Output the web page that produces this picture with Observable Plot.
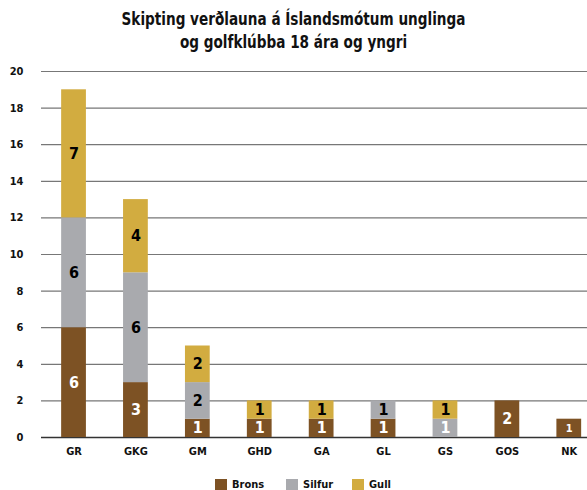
<!DOCTYPE html>
<html>
<head>
<meta charset="utf-8">
<script src="https://cdn.jsdelivr.net/npm/d3@7"></script>
<script src="https://cdn.jsdelivr.net/npm/@observablehq/plot@0.6"></script>
<style>
  html, body { margin: 0; padding: 0; background: #fff; }
  body { width: 587px; height: 490px; overflow: hidden; font-family: "DejaVu Sans Condensed", "Liberation Sans Narrow", sans-serif; font-weight: bold; }
  #title { height: 58px; text-align: center; font-size: 18px; line-height: 23px; padding-top: 7px; box-sizing: border-box; color: #111; }
  #title div { transform: scaleX(0.84); transform-origin: 293.5px 0; white-space: nowrap; }
  #legend { position: relative; height: 12px; margin-top: 11px; font-size: 11px; color: #111; }
  .item { position: absolute; top: 0; display: flex; align-items: center; }
  .sw { width: 12px; height: 12px; margin-right: 5px; }
</style>
</head>
<body>
<div id="title"></div>
<div id="chart"></div>
<div id="legend"></div>
<script>
const titleLines = ["Skipting verðlauna á Íslandsmótum unglinga", "og golfklúbba 18 ára og yngri"];
const clubs = ["GR", "GKG", "GM", "GHD", "GA", "GL", "GS", "GOS", "NK"];
const series = ["Brons", "Silfur", "Gull"];
const brons  = [6, 3, 1, 1, 1, 1, 0, 2, 1];
const silfur = [6, 6, 2, 0, 0, 1, 1, 0, 0];
const gull   = [7, 4, 2, 1, 1, 0, 1, 0, 0];
const yTicks = [0, 2, 4, 6, 8, 10, 12, 14, 16, 18, 20];
const colors = ["#7d5224", "#a9aaae", "#d2ac40"];
const legendLeft = [215, 286, 352];

document.getElementById("title").innerHTML = titleLines.map(t => `<div>${t}</div>`).join("");

const values = [brons, silfur, gull];
const rows = [];
series.forEach((s, si) => clubs.forEach((c, ci) => {
  rows.push({club: c, series: s, value: values[si][ci]});
}));
const labelled = rows.filter(d => d.value > 0);

const chart = Plot.plot({
  width: 587,
  height: 409,
  marginTop: 13,
  marginBottom: 30,
  marginLeft: 41,
  marginRight: 0,
  style: {fontFamily: '"DejaVu Sans Condensed", "Liberation Sans Narrow", sans-serif', fontWeight: "bold", fontSize: "11px", color: "#111"},
  x: {domain: clubs, range: [24, 618.3], padding: 0.6, round: false, label: null, tickSize: 0, tickPadding: 10},
  y: {domain: [0, 20], ticks: yTicks, label: null, tickSize: 0, tickPadding: 18},
  color: {domain: series, range: colors},
  marks: [
    Plot.ruleY(yTicks.filter(t => t > 0), {stroke: "#777", strokeWidth: 1.2}),
    Plot.ruleY([0], {stroke: "#333", strokeWidth: 1.4}),
    Plot.barY(rows, Plot.stackY({x: "club", y: "value", fill: "series", order: series})),
    Plot.text(labelled, Plot.stackY({
      x: "club", y: "value", z: "series", order: series,
      text: d => String(d.value),
      fill: d => (d.series === "Brons" || (d.series === "Silfur" && d.club === "GS")) ? "white" : "black",
      fontSize: d => d.club === "NK" ? 11 : 16,
      fontWeight: "bold"
    }))
  ]
});
document.getElementById("chart").appendChild(chart);

document.getElementById("legend").innerHTML = series.map((s, i) =>
  `<div class="item" style="left:${legendLeft[i]}px"><div class="sw" style="background:${colors[i]}"></div><span>${s}</span></div>`).join("");
</script>
</body>
</html>
